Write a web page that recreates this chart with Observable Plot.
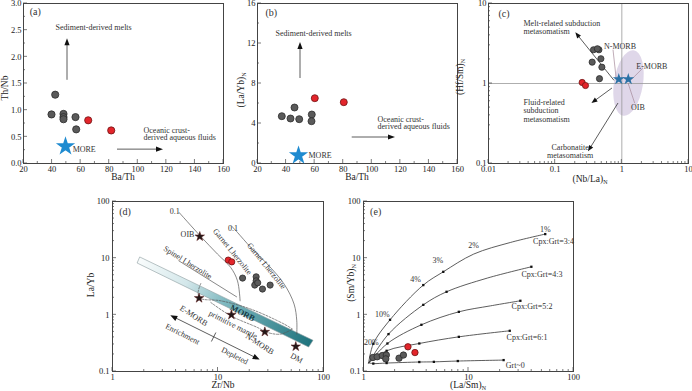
<!DOCTYPE html>
<html><head><meta charset="utf-8">
<script src="https://cdn.jsdelivr.net/npm/d3@7"></script>
<script src="https://cdn.jsdelivr.net/npm/@observablehq/plot@0.6"></script>
<style>
body{margin:0;background:#fff;}
#wrap{position:relative;width:692px;height:391px;overflow:hidden;font-family:"Liberation Serif","Times New Roman",serif;background:#fff;}
.lab{position:absolute;font-size:9.5px;color:#222;white-space:nowrap;transform:translate(-50%,-50%);line-height:1;}
.lab.v{transform:translate(-50%,-50%) rotate(-90deg);}
.lab sub{font-size:6px;vertical-align:-2px;}
</style></head><body><div id="wrap"></div>
<script>
// ---------- data: panel (a) ----------
const aGrayBaTh = [42.2, 39.6, 48.0, 48.0, 48.0, 56.4, 56.9];
const aGrayThNb = [1.29, 0.92, 0.93, 0.87, 0.83, 0.87, 0.64];
const aRedBaTh = [65.3, 81.4];
const aRedThNb = [0.81, 0.62];
const aMoreBaTh = [49.4];
const aMoreThNb = [0.32];
const aXTicks = [20, 40, 60, 80, 100, 120, 140, 160];
const aYTicks = [0, 0.5, 1.0, 1.5, 2.0, 2.5, 3.0];
const aArrows = [{x1: 50.8, y1: 1.56, x2: 50.8, y2: 2.34}, {x1: 85.8, y1: 0.26, x2: 118, y2: 0.26}];
const aNotes = ["Sediment-derived melts", "Oceanic crust-\nderived aqueous fluids", "MORE", "(a)"];
const aNoteX = [42.4, 104, 54.4, 24.4];
const aNoteY = [2.55, 0.555, 0.26, 2.83];

// ---------- data: panel (b) ----------
const bGrayBaTh = [37.0, 43.1, 45.9, 49.2, 58.0, 57.8];
const bGrayLaYb = [4.73, 4.5, 5.6, 4.43, 4.9, 4.23];
const bRedBaTh = [60.1, 80.4];
const bRedLaYb = [6.53, 6.13];
const bMoreBaTh = [48.7];
const bMoreLaYb = [0.8];
const bXTicks = [20, 40, 60, 80, 100, 120, 140, 160];
const bYTicks = [0, 4, 8, 12, 16];
const bArrows = [{x1: 50.1, y1: 8.5, x2: 50.1, y2: 12.1}, {x1: 86.3, y1: 2.6, x2: 116.6, y2: 2.6}];
const bNotes = ["Sediment-derived melts", "Oceanic crust-\nderived aqueous fluids", "MORE", "(b)"];
const bNoteX = [32.6, 104, 55.7, 25.6];
const bNoteY = [13.0, 4.05, 0.8, 15.0];

// ---------- data: panel (c) ----------
const cGrayNbLa = [0.376, 0.453, 0.43, 0.359, 0.485, 0.502, 0.462];
const cGrayHfSm = [2.64, 2.64, 2.72, 1.85, 2.04, 1.60, 1.15];
const cRedNbLa = [0.254, 0.285];
const cRedHfSm = [1.03, 0.944];
const cStarNbLa = [0.90, 1.25];
const cStarHfSm = [1.13, 1.13];
const cXTicks = [0.01, 0.1, 1, 10];
const cYTicks = [0.1, 1, 10];
const cOib = {cx: 1.28, cy: 1.0, x1: 0.767, x2: 2.09, y1: 0.387, y2: 2.61, tilt: 9};
const cArrows = [
  {x1: 0.776, y1: 1.08, x2: 0.204, y2: 4.3},
  {x1: 0.724, y1: 0.866, x2: 0.356, y2: 0.562},
  {x1: 0.891, y1: 0.562, x2: 0.316, y2: 0.14}
];
const cLeaders = [
  {x1: 0.75, y1: 2.61, x2: 0.843, y2: 1.08},
  {x1: 2.11, y1: 1.54, x2: 1.33, y2: 1.05},
  {x1: 1.585, y1: 0.562, x2: 1.26, y2: 1.0}
];
const cNotes = ["Melt-related subduction\nmetasomatism", "Fluid-related\nsubduction\nmetasomatism", "(c)"];
const cNoteX = [0.0335, 0.0335, 0.0141];
const cNoteY = [5.06, 0.46, 7.43];
const cCenterNotes = ["Carbonatite\nmetasomatism", "N-MORB", "E-MORB", "OIB"];
const cCenterX = [0.168, 0.94, 2.82, 1.74];
const cCenterY = [0.142, 2.88, 1.66, 0.511];

// ---------- data: panel (d) ----------
const dGrayZrNb = [17.1, 23.0, 23.0, 22.3, 26.4, 31.2, 23.8];
const dGrayLaYb = [4.45, 4.69, 3.98, 3.35, 2.85, 3.35, 3.67];
const dRedZrNb = [12.5, 13.5];
const dRedLaYb = [9.25, 8.6];
const dStarZrNb = [6.72, 6.62, 13.4, 27.8, 54.6];
const dStarLaYb = [24.1, 1.97, 1.0, 0.5, 0.276];
const dXTicks = [1, 10, 100];
const dYTicks = [0.1, 1, 10, 100];
const morbZrNb = [1.83, 80.4, 73.1, 1.73];
const morbLaYb = [10.3, 0.348, 0.265, 8.05];
const oibCurveZrNb = [4.28, 6.77, 9.89, 13.2, 15.3, 16.2];
const oibCurveLaYb = [64.0, 24.8, 11.8, 6.84, 3.98, 1.77];
const garnetCurveZrNb = [13.4, 15.3, 20.5, 29.4, 42.4, 52.6, 55.8, 55.8];
const garnetCurveLaYb = [37.2, 28.4, 15.4, 7.85, 3.48, 1.55, 0.786, 0.457];
const spinelLineZrNb = [4.25, 15.0];
const spinelLineLaYb = [8.98, 2.08];
const dash1ZrNb = [6.87, 6.48, 6.77, 10.6, 20.5, 42.4, 50.8];
const dash1LaYb = [3.57, 2.48, 1.97, 1.77, 1.26, 0.686, 0.56];
const dash2ZrNb = [8.55, 13.2, 23.7, 29.4, 39.4, 50.8];
const dash2LaYb = [1.65, 0.962, 0.597, 0.488, 0.457, 0.56];
const dArrows = [{x1: 3.57, y1: 0.962, x2: 25.1, y2: 0.159, both: true, mid: [9.19, 0.398]}];
const dNotes = ["OIB", "0.1", "0.1", "Garnet Lherzolite", "Garnet Lherzolite", "Spinel Lherzolite",
  "primitive mantle", "E-MORB", "Enrichment", "Depleted", "N-MORB", "DM"];
const dNoteX = [5.14, 3.89, 13.9, 13.7, 28.8, 5.17, 13.9, 5.89, 4.61, 14.4, 24.9, 55.5];
const dNoteY = [25.8, 67.6, 33.9, 13.1, 7.33, 8.37, 0.667, 0.962, 0.457, 0.189, 0.305, 0.172];
const dNoteRot = [0, 0, 0, 51, 51, 32, 27, 33, 27, 27, 33, 30];

// ---------- data: panel (e) ----------
const eGrayLaSm = [1.23, 1.35, 1.51, 1.65, 1.63, 2.18, 2.40];
const eGraySmYb = [0.177, 0.182, 0.191, 0.195, 0.167, 0.172, 0.195];
const eRedLaSm = [2.65, 3.09];
const eRedSmYb = [0.273, 0.216];
const eXTicks = [1, 10, 100];
const eYTicks = [0.1, 1, 10, 100];
const e34LaSm = [1.12, 1.24, 1.79, 3.71, 5.75, 11.2, 25.0, 53.8];
const e34SmYb = [0.142, 0.308, 0.817, 3.35, 5.74, 11.8, 18.9, 26.6];
const e34MarkLaSm = [1.24, 1.79, 3.71, 5.75, 53.8];
const e34MarkSmYb = [0.308, 0.817, 3.35, 5.74, 26.6];
const e43LaSm = [1.12, 1.73, 3.71, 6.18, 15.1, 39.7];
const e43SmYb = [0.142, 0.457, 1.50, 2.55, 4.45, 7.05];
const e43MarkLaSm = [1.73, 3.71, 6.18, 39.7];
const e43MarkSmYb = [0.457, 1.50, 2.55, 7.05];
const e52LaSm = [1.12, 1.69, 3.56, 8.09, 16.2, 31.2];
const e52SmYb = [0.142, 0.312, 0.667, 1.13, 1.44, 1.77];
const e52MarkLaSm = [1.69, 3.56, 8.09, 31.2];
const e52MarkSmYb = [0.312, 0.667, 1.13, 1.77];
const e61LaSm = [1.12, 1.66, 3.40, 8.09, 24.7];
const e61SmYb = [0.142, 0.232, 0.312, 0.409, 0.523];
const e61MarkLaSm = [1.66, 3.40, 8.09, 24.7];
const e61MarkSmYb = [0.232, 0.312, 0.409, 0.523];
const e0LaSm = [1.12, 1.24, 1.66, 3.40, 4.68, 7.91, 21.6];
const e0SmYb = [0.142, 0.138, 0.141, 0.147, 0.148, 0.153, 0.159];
const e0MarkLaSm = [1.24, 1.66, 3.40, 4.68, 7.91, 21.6];
const e0MarkSmYb = [0.138, 0.141, 0.147, 0.148, 0.153, 0.159];
const eNotes = ["Cpx:Grt=3:4", "Cpx:Grt=4:3", "Cpx:Grt=5:2", "Cpx:Grt=6:1", "Grt~0", "1%", "2%", "3%", "4%", "10%", "20%"];
const eNoteX = [64.6, 50.1, 40.3, 36.1, 27.9, 53.9, 11.2, 5.11, 3.14, 1.51, 1.19];
const eNoteY = [19.7, 5.23, 1.39, 0.398, 0.130, 32.6, 16.5, 8.98, 4.27, 1.0, 0.325];

// ---------- helpers ----------
const SERIF = "'Liberation Serif','Times New Roman',serif";
const GRAY = "#5a5a5a", GRAYS = "#2c2c2c", RED = "#e3252b", REDS = "#6e1414", TXT = "#333";
const wrap = document.getElementById("wrap");

function logMinor(lo, hi) {
  const out = [];
  for (let k = lo; k < hi; k++) for (let m = 2; m <= 9; m++) out.push(m * Math.pow(10, k));
  return out;
}
function innerTicks({x = [], xm = [], y = [], ym = []}) {
  return (index, sc, values, dim) => {
    const g = d3.create("svg:g").attr("stroke", "#444").attr("stroke-width", 0.7);
    const L = dim.marginLeft, B = dim.height - dim.marginBottom;
    const add = (x1, y1, x2, y2) => g.append("line").attr("x1", x1).attr("y1", y1).attr("x2", x2).attr("y2", y2);
    x.forEach(v => { const p = sc.x(v); add(p, B, p, B - 4); });
    xm.forEach(v => { const p = sc.x(v); add(p, B, p, B - 2); });
    y.forEach(v => { const p = sc.y(v); add(L, p, L + 4, p); });
    ym.forEach(v => { const p = sc.y(v); add(L, p, L + 2, p); });
    return g.node();
  };
}
function arrowsMark(list, {color = "#333", head = 7, half = 2.6, width = 0.8} = {}) {
  return (index, sc) => {
    const g = d3.create("svg:g");
    const tri = (px, py, ux, uy) => {
      const bx = px - ux * head, by = py - uy * head;
      return `M${px},${py}L${bx - uy * half},${by + ux * half}L${bx + uy * half},${by - ux * half}Z`;
    };
    for (const a of list) {
      const X1 = sc.x(a.x1), Y1 = sc.y(a.y1), X2 = sc.x(a.x2), Y2 = sc.y(a.y2);
      const dx = X2 - X1, dy = Y2 - Y1, L = Math.hypot(dx, dy), ux = dx / L, uy = dy / L;
      const s = a.both ? head * 0.8 : 0;
      g.append("line").attr("x1", X1 + ux * s).attr("y1", Y1 + uy * s)
        .attr("x2", X2 - ux * head * 0.8).attr("y2", Y2 - uy * head * 0.8)
        .attr("stroke", color).attr("stroke-width", width);
      g.append("path").attr("d", tri(X2, Y2, ux, uy)).attr("fill", "#111");
      if (a.both) g.append("path").attr("d", tri(X1, Y1, -ux, -uy)).attr("fill", "#111");
      if (a.mid) {
        const mx = sc.x(a.mid[0]), my = sc.y(a.mid[1]);
        g.append("line").attr("x1", mx - uy * 5).attr("y1", my + ux * 5).attr("x2", mx + uy * 5).attr("y2", my - ux * 5)
          .attr("stroke", color).attr("stroke-width", width);
      }
    }
    return g.node();
  };
}
function segs(list, stroke, width = 0.7) {
  return (index, sc) => {
    const g = d3.create("svg:g").attr("stroke", stroke).attr("stroke-width", width);
    for (const a of list) g.append("line").attr("x1", sc.x(a.x1)).attr("y1", sc.y(a.y1)).attr("x2", sc.x(a.x2)).attr("y2", sc.y(a.y2));
    return g.node();
  };
}
function label(html, x, y, vertical) {
  const d = document.createElement("div");
  d.className = "lab" + (vertical ? " v" : "");
  d.innerHTML = html;
  d.style.left = x + "px"; d.style.top = y + "px";
  wrap.appendChild(d);
}
function place(svg, left, top) {
  svg.style.position = "absolute"; svg.style.left = left + "px"; svg.style.top = top + "px";
  wrap.appendChild(svg);
}
const baseStyle = {fontFamily: SERIF, fontSize: "8.5px", color: "#222", background: "transparent", overflow: "visible"};
const zipXY = (xs, ys) => xs.map((x, i) => ({x, y: ys[i]}));

// ---------- panel (a) ----------
place(Plot.plot({
  width: 230, height: 180, marginLeft: 23, marginRight: 7, marginTop: 3, marginBottom: 17,
  style: baseStyle,
  x: {domain: [20, 160]}, y: {domain: [0, 3]},
  marks: [
    Plot.frame({stroke: "#444"}),
    innerTicks({x: aXTicks, xm: d3.range(30, 160, 20), y: aYTicks, ym: d3.range(0.25, 3, 0.5)}),
    Plot.axisX(aXTicks, {tickSize: 0, tickPadding: 2, label: null}),
    Plot.axisY(aYTicks, {tickSize: 0, tickPadding: 2, label: null, tickFormat: d3.format(".1f")}),
    arrowsMark(aArrows),
    Plot.text(aNotes, {x: aNoteX, y: aNoteY, text: aNotes, textAnchor: "start", fill: TXT, lineHeight: 0.9, fontSize: d => d === "(a)" ? 10 : 8}),
    Plot.dot(zipXY(aGrayBaTh, aGrayThNb), {x: "x", y: "y", r: 3.6, fill: GRAY, stroke: GRAYS, strokeWidth: 0.8}),
    Plot.dot(zipXY(aRedBaTh, aRedThNb), {x: "x", y: "y", r: 3.6, fill: RED, stroke: REDS, strokeWidth: 0.8}),
    Plot.dot(zipXY(aMoreBaTh, aMoreThNb), {x: "x", y: "y", r: 4.6, symbol: "star", fill: "#1f8bd0", stroke: "#1f8bd0"})
  ]
}), 0, 0);
label("Th/Nb", 6, 88, true);
label("Ba/Th", 123, 178);

// ---------- panel (b) ----------
place(Plot.plot({
  width: 232, height: 180, marginLeft: 25, marginRight: 7, marginTop: 3, marginBottom: 17,
  style: baseStyle,
  x: {domain: [20, 160]}, y: {domain: [0, 16]},
  marks: [
    Plot.frame({stroke: "#444"}),
    innerTicks({x: bXTicks, xm: d3.range(30, 160, 20), y: bYTicks, ym: d3.range(2, 16, 4)}),
    Plot.axisX(bXTicks, {tickSize: 0, tickPadding: 2, label: null}),
    Plot.axisY(bYTicks, {tickSize: 0, tickPadding: 2, label: null}),
    arrowsMark(bArrows),
    Plot.text(bNotes, {x: bNoteX, y: bNoteY, text: bNotes, textAnchor: "start", fill: TXT, lineHeight: 0.9, fontSize: d => d === "(b)" ? 10 : 8}),
    Plot.dot(zipXY(bGrayBaTh, bGrayLaYb), {x: "x", y: "y", r: 3.5, fill: GRAY, stroke: GRAYS, strokeWidth: 0.8}),
    Plot.dot(zipXY(bRedBaTh, bRedLaYb), {x: "x", y: "y", r: 3.5, fill: RED, stroke: REDS, strokeWidth: 0.8}),
    Plot.dot(zipXY(bMoreBaTh, bMoreLaYb), {x: "x", y: "y", r: 4.6, symbol: "star", fill: "#1f8bd0", stroke: "#1f8bd0"})
  ]
}), 232, 0);
label("(La/Yb)<sub>N</sub>", 242, 90, true);
label("Ba/Th", 357, 178);

// ---------- panel (c) ----------
const ellipseMark = (index, sc) => {
  const cx = sc.x(cOib.cx), cy = sc.y(cOib.cy);
  const rx = (sc.x(cOib.x2) - sc.x(cOib.x1)) / 2, ry = (sc.y(cOib.y1) - sc.y(cOib.y2)) / 2;
  const g = d3.create("svg:g");
  g.append("ellipse").attr("cx", cx).attr("cy", cy).attr("rx", rx).attr("ry", ry)
    .attr("transform", `rotate(${cOib.tilt},${cx},${cy})`).attr("fill", "#dcd3e7").attr("fill-opacity", 0.9);
  return g.node();
};
place(Plot.plot({
  width: 226, height: 180, marginLeft: 22, marginRight: 4, marginTop: 3, marginBottom: 17,
  style: baseStyle,
  x: {type: "log", domain: [0.01, 10]}, y: {type: "log", domain: [0.1, 10]},
  marks: [
    ellipseMark,
    Plot.ruleX([1], {stroke: "#999", strokeWidth: 0.8}),
    Plot.ruleY([1], {stroke: "#999", strokeWidth: 0.8}),
    Plot.frame({stroke: "#444"}),
    innerTicks({x: cXTicks, xm: logMinor(-2, 1), y: cYTicks, ym: logMinor(-1, 1)}),
    Plot.axisX(cXTicks, {tickSize: 0, tickPadding: 2, label: null, tickFormat: d => String(d)}),
    Plot.axisY(cYTicks, {tickSize: 0, tickPadding: 2, label: null, tickFormat: d => String(d)}),
    segs(cLeaders, "#a58a9a", 0.7),
    arrowsMark(cArrows, {head: 6, half: 2.4}),
    Plot.text(cNotes, {x: cNoteX, y: cNoteY, text: cNotes, textAnchor: "start", fill: TXT, lineHeight: 1.05, fontSize: d => d === "(c)" ? 10 : 8}),
    Plot.text(cCenterNotes, {x: cCenterX, y: cCenterY, text: cCenterNotes, fill: TXT, lineHeight: 1.05, fontSize: 8}),
    Plot.dot(zipXY(cGrayNbLa, cGrayHfSm), {x: "x", y: "y", r: 3.1, fill: GRAY, stroke: GRAYS, strokeWidth: 0.8}),
    Plot.dot(zipXY(cRedNbLa, cRedHfSm), {x: "x", y: "y", r: 3.1, fill: RED, stroke: REDS, strokeWidth: 0.8}),
    Plot.dot(zipXY(cStarNbLa, cStarHfSm), {x: "x", y: "y", r: 2.3, symbol: "star", fill: "#2b72a6", stroke: "#2b72a6"})
  ]
}), 466, 0);
label("(Hf/Sm)<sub>N</sub>", 461, 77, true);
label("(Nb/La)<sub>N</sub>", 590, 180);

// ---------- panel (d) ----------
const bandMark = (index, sc) => {
  const P = morbZrNb.map((v, i) => [sc.x(v), sc.y(morbLaYb[i])]);
  const g = d3.create("svg:g");
  const lg = g.append("defs").append("linearGradient").attr("id", "morbGrad").attr("gradientUnits", "userSpaceOnUse")
    .attr("x1", (P[0][0] + P[3][0]) / 2).attr("y1", (P[0][1] + P[3][1]) / 2)
    .attr("x2", (P[1][0] + P[2][0]) / 2).attr("y2", (P[1][1] + P[2][1]) / 2);
  [[0, "#f9fcfc"], [0.28, "#d3e7ea"], [0.5, "#7fb9c0"], [1, "#1f737d"]].forEach(([o, c]) =>
    lg.append("stop").attr("offset", o).attr("stop-color", c));
  g.append("path").attr("d", "M" + P.map(p => p.join(",")).join("L") + "Z")
    .attr("fill", "url(#morbGrad)").attr("stroke", "#8a9b9d").attr("stroke-width", 0.6);
  return g.node();
};
place(Plot.plot({
  width: 240, height: 201, marginLeft: 22, marginRight: 7, marginTop: 11, marginBottom: 20,
  style: baseStyle,
  x: {type: "log", domain: [1, 100]}, y: {type: "log", domain: [0.1, 100]},
  marks: [
    bandMark,
    Plot.frame({stroke: "#444"}),
    innerTicks({x: dXTicks, xm: logMinor(0, 2), y: dYTicks, ym: logMinor(-1, 2)}),
    Plot.axisX(dXTicks, {tickSize: 0, tickPadding: 2, label: null, tickFormat: d => String(d)}),
    Plot.axisY(dYTicks, {tickSize: 0, tickPadding: 3, label: null, tickFormat: d => String(d)}),
    Plot.line(zipXY(oibCurveZrNb, oibCurveLaYb), {x: "x", y: "y", stroke: "#555", strokeWidth: 0.7, curve: "catmull-rom"}),
    Plot.line(zipXY(garnetCurveZrNb, garnetCurveLaYb), {x: "x", y: "y", stroke: "#555", strokeWidth: 0.7, curve: "catmull-rom"}),
    Plot.line(zipXY(spinelLineZrNb, spinelLineLaYb), {x: "x", y: "y", stroke: "#555", strokeWidth: 0.7}),
    Plot.line(zipXY(dash1ZrNb, dash1LaYb), {x: "x", y: "y", stroke: "#555", strokeWidth: 0.7, strokeDasharray: "2,1.5", curve: "catmull-rom"}),
    Plot.line(zipXY(dash2ZrNb, dash2LaYb), {x: "x", y: "y", stroke: "#555", strokeWidth: 0.7, strokeDasharray: "2,1.5", curve: "catmull-rom"}),
    arrowsMark(dArrows, {head: 7, half: 2.8}),
    Plot.text(dNotes, {x: dNoteX, y: dNoteY, text: dNotes, rotate: dNoteRot, fill: TXT, fontSize: 8}),
    Plot.text(["MORB"], {x: [17.1], y: [1.07], text: d => d, rotate: 27, fill: "#173c45", fontWeight: "bold", fontSize: 8.5}),
    Plot.text(["(d)"], {x: [1.156], y: [65.8], text: d => d, textAnchor: "start", fill: TXT, fontSize: 10}),
    Plot.dot(zipXY(dGrayZrNb, dGrayLaYb), {x: "x", y: "y", r: 3.1, fill: GRAY, stroke: GRAYS, strokeWidth: 0.8}),
    Plot.dot(zipXY(dRedZrNb, dRedLaYb), {x: "x", y: "y", r: 3.1, fill: RED, stroke: REDS, strokeWidth: 0.8}),
    Plot.dot(zipXY(dStarZrNb, dStarLaYb), {x: "x", y: "y", r: 3, symbol: "star", fill: "#231818", stroke: "#5a1a1a", strokeWidth: 0.5})
  ]
}), 90, 190);
label("La/Yb", 92, 285, true);
label("Zr/Nb", 223, 386);

// ---------- panel (e) ----------
const eLineOpts = {x: "x", y: "y", stroke: "#333", strokeWidth: 0.8, curve: "catmull-rom"};
const eMarkOpts = {x: "x", y: "y", r: 1.3, symbol: "square", fill: "#111"};
place(Plot.plot({
  width: 244, height: 201, marginLeft: 23, marginRight: 11, marginTop: 11, marginBottom: 20,
  style: baseStyle,
  x: {type: "log", domain: [1, 100]}, y: {type: "log", domain: [0.1, 100]},
  marks: [
    Plot.frame({stroke: "#444"}),
    innerTicks({x: eXTicks, xm: logMinor(0, 2), y: eYTicks, ym: logMinor(-1, 2)}),
    Plot.axisX(eXTicks, {tickSize: 0, tickPadding: 2, label: null, tickFormat: d => String(d)}),
    Plot.axisY(eYTicks, {tickSize: 0, tickPadding: 3, label: null, tickFormat: d => String(d)}),
    Plot.line(zipXY(e34LaSm, e34SmYb), eLineOpts),
    Plot.line(zipXY(e43LaSm, e43SmYb), eLineOpts),
    Plot.line(zipXY(e52LaSm, e52SmYb), eLineOpts),
    Plot.line(zipXY(e61LaSm, e61SmYb), eLineOpts),
    Plot.line(zipXY(e0LaSm, e0SmYb), eLineOpts),
    Plot.dot(zipXY(e34MarkLaSm, e34MarkSmYb), eMarkOpts),
    Plot.dot(zipXY(e43MarkLaSm, e43MarkSmYb), eMarkOpts),
    Plot.dot(zipXY(e52MarkLaSm, e52MarkSmYb), eMarkOpts),
    Plot.dot(zipXY(e61MarkLaSm, e61MarkSmYb), eMarkOpts),
    Plot.dot(zipXY(e0MarkLaSm, e0MarkSmYb), eMarkOpts),
    Plot.text(eNotes, {x: eNoteX, y: eNoteY, text: eNotes, fill: TXT, fontSize: 8}),
    Plot.text(["(e)"], {x: [1.156], y: [65.8], text: d => d, textAnchor: "start", fill: TXT, fontSize: 10}),
    Plot.dot(zipXY(eGrayLaSm, eGraySmYb), {x: "x", y: "y", r: 3.2, fill: GRAY, stroke: GRAYS, strokeWidth: 0.8}),
    Plot.dot(zipXY(eRedLaSm, eRedSmYb), {x: "x", y: "y", r: 3.2, fill: RED, stroke: REDS, strokeWidth: 0.8})
  ]
}), 340, 190);
label("(Sm/Yb)<sub>N</sub>", 352, 283, true);
label("(La/Sm)<sub>N</sub>", 468, 386);
</script></body></html>
